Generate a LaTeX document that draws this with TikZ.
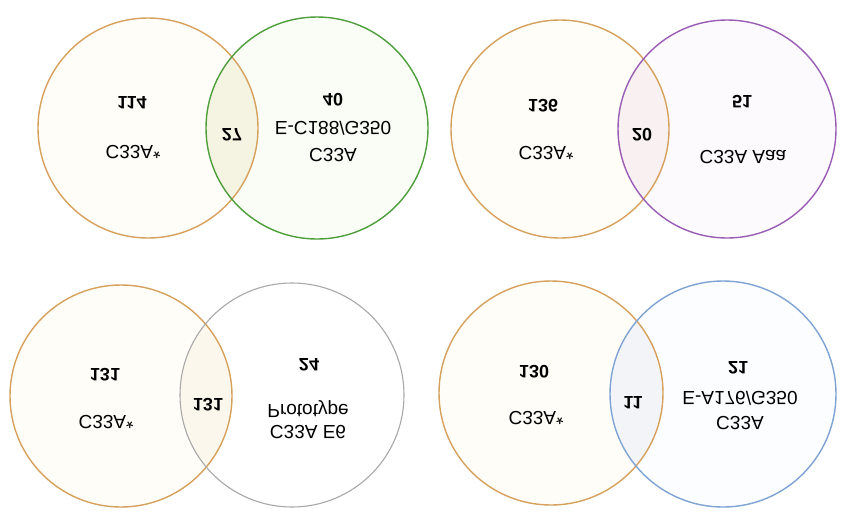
\documentclass[tikz,border=0pt]{standalone}
\usepackage{fontspec}
\setmainfont{Liberation Sans}
\usepackage{graphicx}
\newcommand{\flipt}[1]{\scalebox{1}[-1]{#1}}
\definecolor{orC}{HTML}{D6A15C}
\definecolor{orF}{HTML}{FFFDF8}
\definecolor{grC}{HTML}{4E9E3C}
\definecolor{grF}{HTML}{FAFDF6}
\definecolor{grI}{HTML}{F5F3E2}
\definecolor{puC}{HTML}{9A5DB5}
\definecolor{puF}{HTML}{FCFAFD}
\definecolor{puI}{HTML}{F8F0F1}
\definecolor{gyC}{HTML}{A8A8A8}
\definecolor{gyF}{HTML}{FFFFFF}
\definecolor{gyI}{HTML}{FCF7ED}
\definecolor{blC}{HTML}{7FA3D3}
\definecolor{blF}{HTML}{FCFDFE}
\definecolor{blI}{HTML}{F2F4F8}
\begin{document}
\begin{tikzpicture}[x=1pt,y=-1pt,
  lbl/.style={font=\fontsize{19}{22}\selectfont, inner sep=0pt},
  num/.style={font=\bfseries\fontsize{18}{22}\selectfont, inner sep=0pt},
  ring/.style={line width=1.4pt}]
\useasboundingbox (0,0) rectangle (850,515);
\fill[white] (0,0) rectangle (850,515);
% ---- top left
\fill[orF] (148,128) circle (110);
\fill[grF] (317,128) circle (111);
\begin{scope}\clip (148,128) circle (110); \fill[grI] (317,128) circle (111);\end{scope}
\draw[ring,orC] (148,128) circle (110);
\draw[ring,grC] (317,128) circle (111);
% ---- top right
\fill[orF] (560,129) circle (109);
\fill[puF] (727,129) circle (109);
\begin{scope}\clip (560,129) circle (109); \fill[puI] (727,129) circle (109);\end{scope}
\draw[ring,orC] (560,129) circle (109);
\draw[ring,puC] (727,129) circle (109);
% ---- bottom left
\fill[orF] (121,396) circle (111);
\fill[gyF] (292,395) circle (112);
\begin{scope}\clip (121,396) circle (111); \fill[gyI] (292,395) circle (112);\end{scope}
\draw[ring,orC] (121,396) circle (111);
\draw[ring,gyC,line width=1.1pt] (292,395) circle (112);
% ---- bottom right
\fill[orF] (551,393) circle (112);
\fill[blF] (723,394) circle (113);
\begin{scope}\clip (551,393) circle (112); \fill[blI] (723,394) circle (113);\end{scope}
\draw[ring,orC] (551,393) circle (112);
\draw[ring,blC] (723,394) circle (113);
% ---- texts top left
\node[num] (n114) at (132,103) {\flipt{114}};
\node[lbl] (l1a) at (133,152) {\flipt{C33A*}};
\node[num] (n27) at (232,135) {\flipt{27}};
\node[num] (n40) at (333,100) {\flipt{40}};
\node[lbl] (l1b) at (333,128) {\flipt{E-C188/G350}};
\node[lbl] (l1c) at (333,155) {\flipt{C33A}};
% ---- texts top right
\node[num] (n136) at (543,106) {\flipt{136}};
\node[lbl] (l2a) at (546,153) {\flipt{C33A*}};
\node[num] (n20) at (642,135) {\flipt{20}};
\node[num] (n51) at (742,102) {\flipt{51}};
\node[lbl] (l2b) at (743,157) {\flipt{C33A Aaa}};
% ---- texts bottom left
\node[num] (n131a) at (105,375) {\flipt{131}};
\node[lbl] (l3a) at (106,422) {\flipt{C33A*}};
\node[num] (n131b) at (208,405) {\flipt{131}};
\node[num] (n24) at (309,365) {\flipt{24}};
\node[lbl] (l3b) at (308,409) {\flipt{Prototype}};
\node[lbl] (l3c) at (308,432) {\flipt{C33A E6}};
% ---- texts bottom right
\node[num] (n130) at (534,372) {\flipt{130}};
\node[lbl] (l4a) at (536,418) {\flipt{C33A*}};
\node[num] (n11) at (633,403) {\flipt{11}};
\node[num] (n21) at (738,368) {\flipt{21}};
\node[lbl] (l4b) at (740,398) {\flipt{E-A176/G350}};
\node[lbl] (l4c) at (740,423) {\flipt{C33A}};
\end{tikzpicture}
\end{document}
